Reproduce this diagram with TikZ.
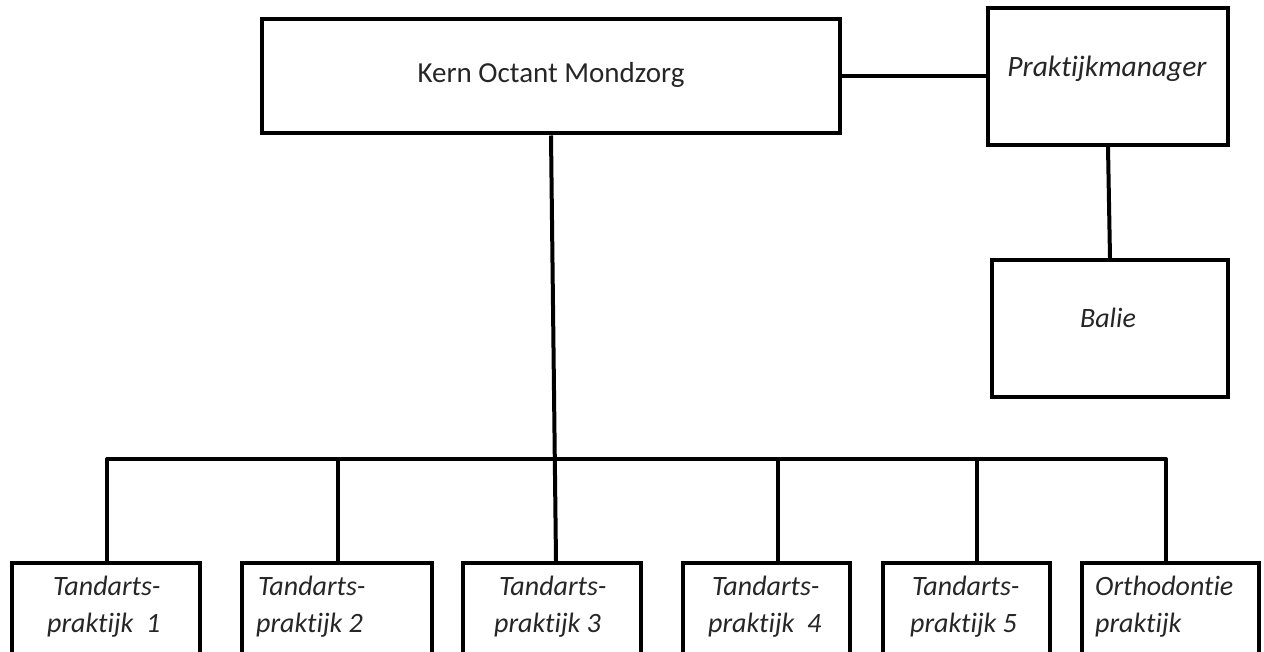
\documentclass[tikz,border=0pt]{standalone}
\usepackage{fontspec}
\setmainfont[Ligatures=NoCommon]{Carlito}
\begin{document}
\begin{tikzpicture}[x=1pt,y=-1pt,
  box/.style={draw=black, line width=4pt, inner sep=0pt, rectangle, fill=white},
  conn/.style={draw=black, line width=4pt, line join=round},
  lbl/.style={font=\fontsize{29}{34}\selectfont, text=black!85, inner sep=0pt},
  ilbl/.style={font=\fontsize{28}{34}\selectfont\itshape, text=black!85, inner sep=0pt, anchor=base west}]
\useasboundingbox (0,0) rectangle (1264,652);
\clip (0,0) rectangle (1264,652);
% top boxes
\node[box, minimum width=578pt, minimum height=114pt] (main) at (551,76.5) {};
\node[box, minimum width=240pt, minimum height=137pt] (pm) at (1108,76.5) {};
\node[box, minimum width=236pt, minimum height=137pt] (balie) at (1110,328.5) {};
% bottom boxes (cut by the lower edge)
\node[box, minimum width=188pt, minimum height=200pt] (b1) at (106,663) {};
\node[box, minimum width=190pt, minimum height=200pt] (b2) at (337,663) {};
\node[box, minimum width=178pt, minimum height=200pt] (b3) at (552,663) {};
\node[box, minimum width=167pt, minimum height=200pt] (b4) at (766.5,663) {};
\node[box, minimum width=167pt, minimum height=200pt] (b5) at (966.5,663) {};
\node[box, minimum width=177pt, minimum height=200pt] (b6) at (1170.5,663) {};
% labels
\node[lbl, anchor=base] (maint) at (551,83) {Kern Octant Mondzorg};
\node[lbl, font=\fontsize{29.5}{34}\selectfont\itshape, anchor=base] (pmt) at (1107,77) {Praktijkmanager};
\node[lbl, font=\fontsize{28}{34}\selectfont\itshape, anchor=base] (baliet) at (1108,328) {Balie};
\node[ilbl] (t1a) at (53,595) {Tandarts-};
\node[ilbl] (t1b) at (47,632) {praktijk\ \ 1};
\node[ilbl] (t2a) at (258,595) {Tandarts-};
\node[ilbl] (t2b) at (256,632) {praktijk 2};
\node[ilbl] (t3a) at (499,595) {Tandarts-};
\node[ilbl] (t3b) at (494,632) {praktijk 3};
\node[ilbl] (t4a) at (712,595) {Tandarts-};
\node[ilbl] (t4b) at (708,632) {praktijk\ \ 4};
\node[ilbl] (t5a) at (912,595) {Tandarts-};
\node[ilbl] (t5b) at (910,632) {praktijk 5};
\node[ilbl] (t6a) at (1095,595) {Orthodontie};
\node[ilbl] (t6b) at (1095,632) {praktijk};
% connector points
\coordinate (d1) at (107,561);
\coordinate (d2) at (338,561);
\coordinate (d3) at (556,561);
\coordinate (d4) at (778,561);
\coordinate (d5) at (977,561);
\coordinate (d6) at (1166,561);
\coordinate (bl) at (107,459);
\coordinate (j2) at (338,459);
\coordinate (j4) at (778,459);
\coordinate (j5) at (977,459);
\coordinate (br) at (1166,459);
% connectors
\draw[conn] (main.east) -- (pm.west);
\draw[conn] (pm.south) -- (balie.north);
\draw[conn] (main.south) -- (d3);
\draw[conn] (d1) -- (bl) -- (br) -- (d6);
\draw[conn] (j2) -- (d2);
\draw[conn] (j4) -- (d4);
\draw[conn] (j5) -- (d5);
\end{tikzpicture}
\end{document}
